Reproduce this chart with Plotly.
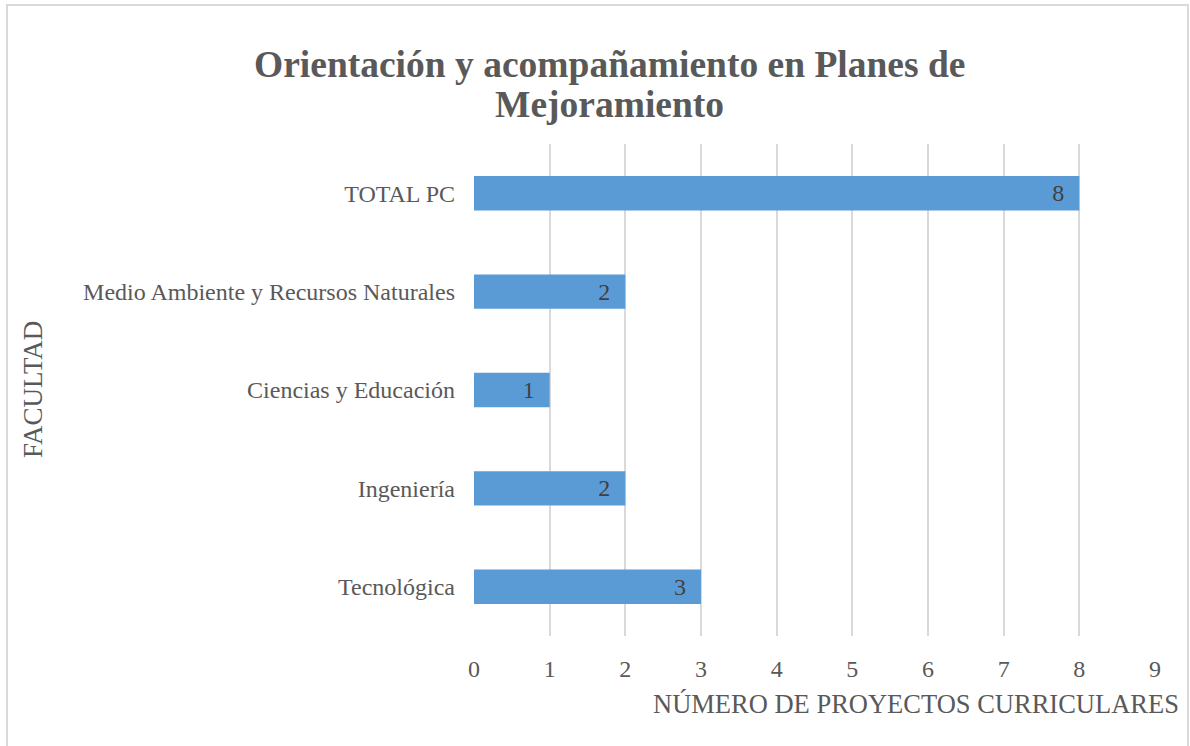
import plotly.graph_objects as go

categories = ["Tecnológica", "Ingeniería", "Ciencias y Educación",
              "Medio Ambiente y Recursos Naturales", "TOTAL PC"]
values = [3, 2, 1, 2, 8]
x_ticks = list(range(0, 10))
title_lines = ["Orientación y acompañamiento en Planes de", "Mejoramiento"]

W, H = 1190, 746
L, R, T, B = 474, 1155, 144, 636
pw, ph = R - L, B - T

def px(x):
    return (x - L) / pw

def py(y):
    return (B - y) / ph

FONT = "Liberation Serif"
GRAY = "#595959"
NBSP = "\u00a0"

fig = go.Figure(go.Bar(
    y=categories, x=values, orientation="h",
    marker=dict(color="#5B9BD5", line=dict(width=0)),
    text=[f"{v}{NBSP * 2}" for v in values], textposition="inside",
    insidetextanchor="end",
    textfont=dict(family=FONT, size=24, color="#404040"),
    width=0.35,
))

annotations = [
    dict(text=f"<b>{line}</b>", xref="paper", yref="paper",
         x=px(609), y=py(yc), xanchor="center", yanchor="middle",
         showarrow=False, font=dict(family=FONT, size=37.5, color=GRAY))
    for line, yc in zip(title_lines, [65, 105])
]
annotations += [
    dict(text="NÚMERO DE PROYECTOS CURRICULARES",
         xref="paper", yref="paper", x=px(1181), y=py(704),
         xanchor="right", yanchor="middle", showarrow=False,
         font=dict(family=FONT, size=26.5, color=GRAY)),
    dict(text="FACULTAD", textangle=-90,
         xref="paper", yref="paper", x=px(33), y=py(390),
         xanchor="center", yanchor="middle", showarrow=False,
         font=dict(family=FONT, size=27, color=GRAY)),
]

fig.update_layout(
    width=W, height=H,
    margin=dict(l=L, r=W - R, t=T, b=H - B),
    paper_bgcolor="white", plot_bgcolor="white",
    font=dict(family=FONT, color=GRAY),
    showlegend=False,
    xaxis=dict(range=[0, 9], tickvals=x_ticks, showgrid=True,
               gridcolor="#D9D9D9", gridwidth=2, zeroline=False,
               tickfont=dict(size=24, color=GRAY), ticks="",
               ticklabelstandoff=16, showline=False, fixedrange=True),
    yaxis=dict(categoryorder="array", categoryarray=categories,
               tickfont=dict(size=24, color=GRAY), ticks="",
               ticklabelstandoff=18, showline=False, showgrid=False,
               fixedrange=True),
    annotations=annotations,
    shapes=[dict(type="rect", xref="paper", yref="paper",
                 x0=px(7), x1=px(1188), y0=py(5), y1=py(750),
                 line=dict(color="#D9D9D9", width=2), layer="below")],
)

fig.write_html("out.html", config={"displayModeBar": False},
               post_script="document.body.style.margin='0';document.body.style.overflow='hidden';")
